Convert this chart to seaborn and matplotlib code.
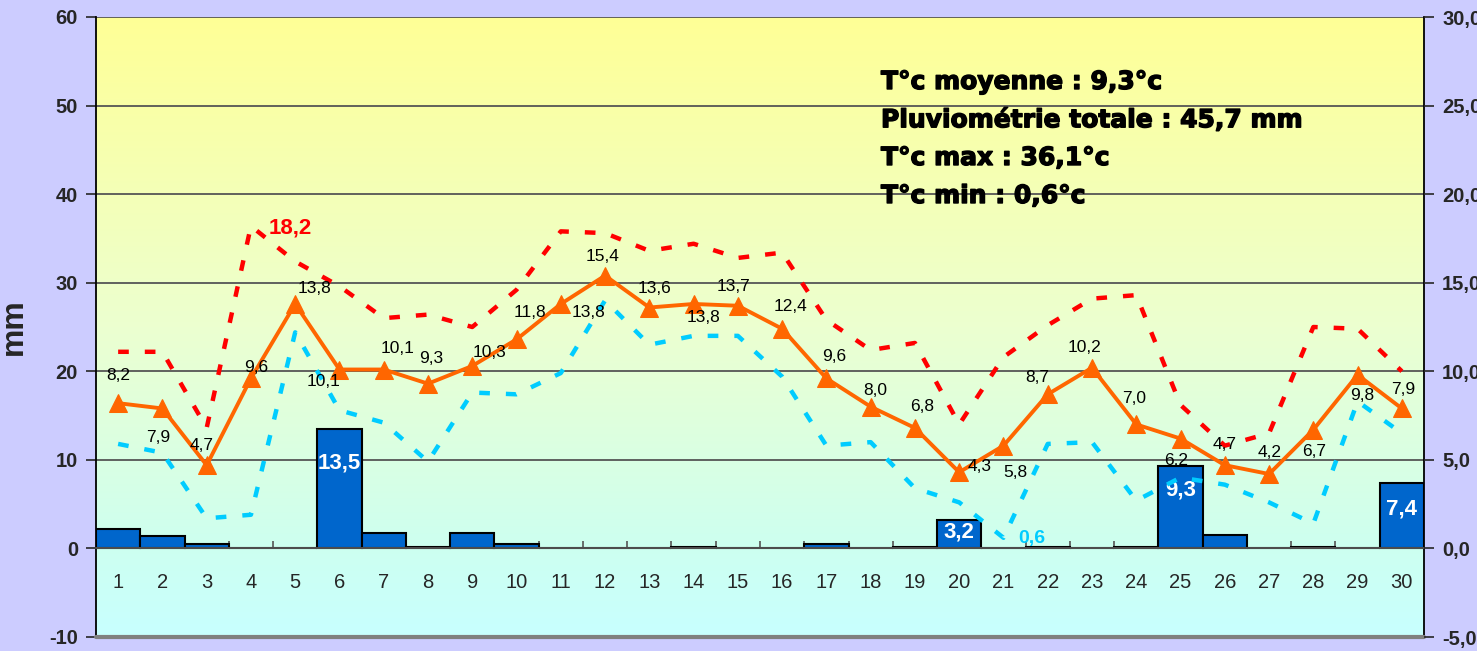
import numpy as np
import pandas as pd
import matplotlib
matplotlib.use("Agg")
import matplotlib.pyplot as plt
import matplotlib.patheffects as pe
import seaborn as sns

# ---------------- data ----------------
days = list(range(1, 31))
rain = [2.2, 1.4, 0.5, 0.0, 0.0, 13.5, 1.7, 0.2, 1.7, 0.5,
        0.0, 0.0, 0.0, 0.2, 0.0, 0.0, 0.5, 0.0, 0.2, 3.2,
        0.0, 0.2, 0.0, 0.2, 9.3, 1.5, 0.0, 0.2, 0.0, 7.4]
t_mean = [8.2, 7.9, 4.7, 9.6, 13.8, 10.1, 10.1, 9.3, 10.3, 11.8,
          13.8, 15.4, 13.6, 13.8, 13.7, 12.4, 9.6, 8.0, 6.8, 4.3,
          5.8, 8.7, 10.2, 7.0, 6.2, 4.7, 4.2, 6.7, 9.8, 7.9]
t_max = [11.1, 11.1, 6.8, 18.2, 16.2, 14.8, 13.0, 13.2, 12.5, 14.6,
         17.9, 17.8, 16.8, 17.2, 16.4, 16.7, 12.9, 11.2, 11.6, 7.0,
         10.8, 12.6, 14.1, 14.3, 8.1, 5.8, 6.5, 12.5, 12.4, 10.0]
t_min = [5.9, 5.4, 1.7, 1.9, 12.2, 7.8, 7.1, 4.9, 8.8, 8.7,
         9.9, 14.0, 11.5, 12.0, 12.0, 9.7, 5.8, 6.0, 3.4, 2.6,
         0.6, 5.9, 6.0, 2.7, 4.0, 3.6, 2.6, 1.4, 8.3, 6.5]
mm_ticks = [-10, 0, 10, 20, 30, 40, 50, 60]
temp_ticks = [-5, 0, 5, 10, 15, 20, 25, 30]
summary_lines = ["T°c moyenne : 9,3°c",
                 "Pluviométrie totale : 45,7 mm",
                 "T°c max : 36,1°c",
                 "T°c min : 0,6°c"]

# label offsets (pixels) for the mean-temperature labels (style only)
mean_lbl_off = [(0, 28), (-4, -29), (-5, 20), (5, 11), (19, 15), (-16, -12),
                (14, 21), (3, 25), (17, 13), (13, 27), (28, -9), (-3, 19),
                (5, 19), (10, -14), (-4, 19), (8, 22), (8, 22), (5, 16),
                (7, 21), (20, 6), (12, -27), (-10, 17), (-7, 20), (-2, 26),
                (-4, -22), (0, 21), (1, 22), (1, -22), (5, -21), (1, 19)]
bar_lbl_drop = {6: 34, 20: 12, 25: 24, 30: 26}

df = pd.DataFrame({"day": days, "rain": rain, "tmean": t_mean,
                   "tmax": t_max, "tmin": t_min})

# ---------------- figure ----------------
sns.set_style("white")
plt.rcParams["font.family"] = ["Liberation Sans", "DejaVu Sans"]

W, H = 1477, 651
fig = plt.figure(figsize=(W / 100, H / 100), dpi=100, facecolor="#CCCCFF")
ax = fig.add_axes([96 / W, 1 - 637 / H, (1424 - 96) / W, (637 - 17) / H])
ax.set_xlim(0.5, 30.5)
ax.set_ylim(-10, 60)

# gradient background of the plot area
yy = np.linspace(60, -10, 300)
stops_y = [60, 25, 0, -10]
stops_c = np.array([[255, 255, 150], [236, 255, 208], [205, 255, 240], [200, 255, 255]]) / 255
grad = np.stack([np.interp(yy, stops_y[::-1], stops_c[::-1, k]) for k in range(3)], axis=-1)
ax.imshow(grad[:, None, :], extent=[0.5, 30.5, -10, 60], aspect="auto", zorder=0,
          interpolation="bilinear")
ax.set_xlim(0.5, 30.5)
ax.set_ylim(-10, 60)

# gridlines
for v in mm_ticks[1:]:
    ax.axhline(v, color="#555555", lw=1.3, zorder=1)

# bars
sns.barplot(data=df, x="day", y="rain", native_scale=True, width=1.0,
            color="#0066CC", edgecolor="black", linewidth=1.5, saturation=1,
            ax=ax, zorder=2)
ax.set_xlim(0.5, 30.5)
ax.set_ylim(-10, 60)
for d, v in zip(days, rain):
    if d in bar_lbl_drop:
        ax.annotate(f"{v:.1f}".replace(".", ","), (d, v), xytext=(0, -bar_lbl_drop[d]),
                    textcoords="offset pixels", ha="center", va="center",
                    color="white", fontsize=16, fontweight="bold", zorder=5)

# axes styling (left)
ax.set_yticks(mm_ticks)
ax.set_yticklabels([str(t) for t in mm_ticks], fontsize=14.5, fontweight="bold")
ax.tick_params(axis="y", direction="out", length=7, width=1.2, pad=6, left=True)
ax.set_ylabel("mm", fontsize=23, fontweight="bold")
ax.yaxis.set_label_coords(-0.0505, 0.5)

ax.spines["bottom"].set_position(("data", 0))
ax.spines["bottom"].set_color("#555555")
ax.spines["bottom"].set_linewidth(1.3)
ax.spines["top"].set_visible(False)
ax.spines["left"].set_color("black")
ax.spines["left"].set_linewidth(1.3)
ax.spines["right"].set_color("black")
ax.spines["right"].set_linewidth(1.3)
ax.axhline(-10, color="#808080", lw=3, zorder=3, clip_on=False)

ax.set_xticks([d + 0.5 for d in days[:-1]])
ax.set_xticklabels([])
ax.tick_params(axis="x", which="major", direction="in", length=5, width=1.2,
               color="#555555", bottom=True)
ax.set_xticks(days, minor=True)
ax.set_xticklabels([str(d) for d in days], minor=True, fontsize=14.5)
ax.tick_params(axis="x", which="minor", length=0, pad=18)
ax.set_xlabel("")

# right axis (temperatures)
ax2 = ax.twinx()
ax2.set_ylim(-5, 30)
sns.lineplot(data=df, x="day", y="tmax", ax=ax2, color="#FF0000", lw=3.2,
             linestyle=(0, (2.4, 3.6)), zorder=4)
sns.lineplot(data=df, x="day", y="tmin", ax=ax2, color="#00CCFF", lw=3.2,
             linestyle=(0, (2.4, 3.6)), zorder=4)
sns.lineplot(data=df, x="day", y="tmean", ax=ax2, color="#FF6600", lw=2.8,
             marker="^", markersize=13, markeredgecolor="#FF6600", zorder=6)
ax2.set_xlim(0.5, 30.5)
ax2.set_ylim(-5, 30)
ax2.set_ylabel("")
ax2.set_xlabel("")
ax2.set_yticks(temp_ticks)
ax2.set_yticklabels([f"{t:.1f}".replace(".", ",") for t in temp_ticks],
                    fontsize=14.5, fontweight="bold")
ax2.tick_params(axis="y", direction="out", length=7, width=1.2, pad=6, right=True)
for s in ax2.spines.values():
    s.set_visible(False)

for d, v, off in zip(days, t_mean, mean_lbl_off):
    ax2.annotate(f"{v:.1f}".replace(".", ","), (d, v), xytext=off,
                 textcoords="offset pixels", ha="center", va="center",
                 fontsize=12.5, color="black", zorder=7)

imax = int(np.argmax(t_max))
ax2.annotate(f"{t_max[imax]:.1f}".replace(".", ","), (days[imax], t_max[imax]),
             xytext=(39, -2), textcoords="offset pixels", ha="center", va="center",
             fontsize=16, fontweight="bold", color="#FF0000", zorder=7)
imin = int(np.argmin(t_min))
ax2.annotate(f"{t_min[imin]:.1f}".replace(".", ","), (days[imin], t_min[imin]),
             xytext=(28, -1), textcoords="offset pixels", ha="center", va="center",
             fontsize=14, fontweight="bold", color="#00CCFF", zorder=7)

# summary text
for i, line in enumerate(summary_lines):
    fig.text(881 / W, 1 - (82 + 38 * i) / H, line, ha="left", va="center",
             fontsize=18, fontweight="bold", color="black", family="DejaVu Sans",
             path_effects=[pe.withStroke(linewidth=1.0, foreground="black")])

fig.savefig("out.png", dpi=100, facecolor=fig.get_facecolor())
